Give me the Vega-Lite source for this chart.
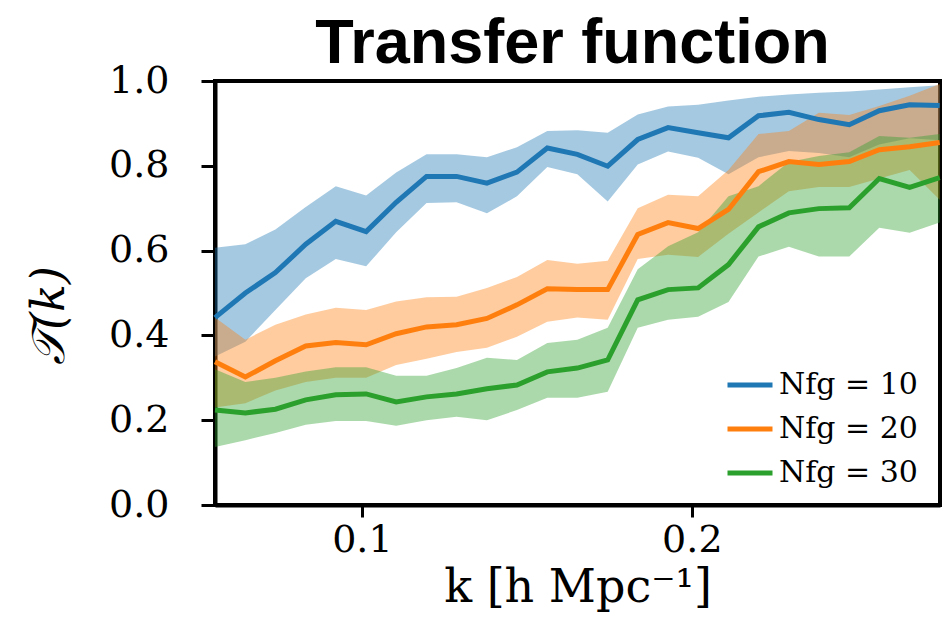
{
  "$schema": "https://vega.github.io/schema/vega-lite/v6.json",
  "width": 725,
  "height": 424,
  "autosize": {"type": "none"},
  "padding": {"left": 215, "top": 81, "right": 8, "bottom": 115},
  "background": "white",
  "title": {"text": "Transfer function", "font": "Liberation Sans", "fontSize": 63, "fontWeight": "bold", "color": "black", "anchor": "middle", "baseline": "bottom", "offset": 3, "frame": "group", "dx": -5, "dy": 80},
  "config": {
    "view": {"stroke": "black", "strokeWidth": 4},
    "axis": {"grid": false, "domainColor": "black", "domainWidth": 4, "tickColor": "black", "tickWidth": 3, "labelColor": "black", "titleColor": "black", "labelFont": "DejaVu Serif", "labelFontSize": 38, "titleFont": "DejaVu Serif", "titleFontWeight": "normal"}
  },
  "data": {"values": [
    {"k": 0.0555, "series": "10", "lo": 0.35, "mid": 0.442, "hi": 0.607},
    {"k": 0.0647, "series": "10", "lo": 0.385, "mid": 0.50, "hi": 0.615},
    {"k": 0.0738, "series": "10", "lo": 0.46, "mid": 0.548, "hi": 0.65},
    {"k": 0.0830, "series": "10", "lo": 0.535, "mid": 0.615, "hi": 0.703},
    {"k": 0.0921, "series": "10", "lo": 0.58, "mid": 0.669, "hi": 0.752},
    {"k": 0.1013, "series": "10", "lo": 0.563, "mid": 0.645, "hi": 0.73},
    {"k": 0.1104, "series": "10", "lo": 0.643, "mid": 0.714, "hi": 0.784},
    {"k": 0.1196, "series": "10", "lo": 0.712, "mid": 0.775, "hi": 0.827},
    {"k": 0.1287, "series": "10", "lo": 0.714, "mid": 0.775, "hi": 0.827},
    {"k": 0.1379, "series": "10", "lo": 0.688, "mid": 0.759, "hi": 0.82},
    {"k": 0.1470, "series": "10", "lo": 0.728, "mid": 0.785, "hi": 0.844},
    {"k": 0.1562, "series": "10", "lo": 0.797, "mid": 0.842, "hi": 0.882},
    {"k": 0.1653, "series": "10", "lo": 0.78, "mid": 0.827, "hi": 0.884},
    {"k": 0.1745, "series": "10", "lo": 0.716, "mid": 0.799, "hi": 0.878},
    {"k": 0.1836, "series": "10", "lo": 0.803, "mid": 0.862, "hi": 0.921},
    {"k": 0.1928, "series": "10", "lo": 0.834, "mid": 0.89, "hi": 0.94},
    {"k": 0.2019, "series": "10", "lo": 0.819, "mid": 0.878, "hi": 0.944},
    {"k": 0.2111, "series": "10", "lo": 0.78, "mid": 0.866, "hi": 0.954},
    {"k": 0.2202, "series": "10", "lo": 0.82, "mid": 0.918, "hi": 0.963},
    {"k": 0.2294, "series": "10", "lo": 0.835, "mid": 0.926, "hi": 0.968},
    {"k": 0.2385, "series": "10", "lo": 0.83, "mid": 0.909, "hi": 0.972},
    {"k": 0.2477, "series": "10", "lo": 0.82, "mid": 0.897, "hi": 0.975},
    {"k": 0.2568, "series": "10", "lo": 0.85, "mid": 0.93, "hi": 0.98},
    {"k": 0.2660, "series": "10", "lo": 0.865, "mid": 0.944, "hi": 0.985},
    {"k": 0.2751, "series": "10", "lo": 0.86, "mid": 0.942, "hi": 0.99},
    {"k": 0.0555, "series": "20", "lo": 0.23, "mid": 0.338, "hi": 0.442},
    {"k": 0.0647, "series": "20", "lo": 0.24, "mid": 0.302, "hi": 0.39},
    {"k": 0.0738, "series": "20", "lo": 0.27, "mid": 0.34, "hi": 0.425},
    {"k": 0.0830, "series": "20", "lo": 0.29, "mid": 0.375, "hi": 0.449},
    {"k": 0.0921, "series": "20", "lo": 0.30, "mid": 0.383, "hi": 0.465},
    {"k": 0.1013, "series": "20", "lo": 0.30, "mid": 0.378, "hi": 0.46},
    {"k": 0.1104, "series": "20", "lo": 0.33, "mid": 0.404, "hi": 0.48},
    {"k": 0.1196, "series": "20", "lo": 0.345, "mid": 0.42, "hi": 0.49},
    {"k": 0.1287, "series": "20", "lo": 0.361, "mid": 0.425, "hi": 0.491},
    {"k": 0.1379, "series": "20", "lo": 0.371, "mid": 0.44, "hi": 0.512},
    {"k": 0.1470, "series": "20", "lo": 0.397, "mid": 0.472, "hi": 0.538},
    {"k": 0.1562, "series": "20", "lo": 0.432, "mid": 0.51, "hi": 0.578},
    {"k": 0.1653, "series": "20", "lo": 0.442, "mid": 0.508, "hi": 0.569},
    {"k": 0.1745, "series": "20", "lo": 0.437, "mid": 0.508, "hi": 0.576},
    {"k": 0.1836, "series": "20", "lo": 0.58, "mid": 0.638, "hi": 0.70},
    {"k": 0.1928, "series": "20", "lo": 0.59, "mid": 0.666, "hi": 0.732},
    {"k": 0.2019, "series": "20", "lo": 0.585, "mid": 0.652, "hi": 0.728},
    {"k": 0.2111, "series": "20", "lo": 0.64, "mid": 0.697, "hi": 0.79},
    {"k": 0.2202, "series": "20", "lo": 0.69, "mid": 0.786, "hi": 0.875},
    {"k": 0.2294, "series": "20", "lo": 0.74, "mid": 0.81, "hi": 0.882},
    {"k": 0.2385, "series": "20", "lo": 0.75, "mid": 0.803, "hi": 0.925},
    {"k": 0.2477, "series": "20", "lo": 0.75, "mid": 0.81, "hi": 0.92},
    {"k": 0.2568, "series": "20", "lo": 0.77, "mid": 0.838, "hi": 0.941},
    {"k": 0.2660, "series": "20", "lo": 0.79, "mid": 0.845, "hi": 0.965},
    {"k": 0.2751, "series": "20", "lo": 0.72, "mid": 0.855, "hi": 0.993},
    {"k": 0.0555, "series": "30", "lo": 0.137, "mid": 0.224, "hi": 0.32},
    {"k": 0.0647, "series": "30", "lo": 0.153, "mid": 0.217, "hi": 0.29},
    {"k": 0.0738, "series": "30", "lo": 0.17, "mid": 0.226, "hi": 0.30},
    {"k": 0.0830, "series": "30", "lo": 0.189, "mid": 0.248, "hi": 0.315},
    {"k": 0.0921, "series": "30", "lo": 0.198, "mid": 0.26, "hi": 0.325},
    {"k": 0.1013, "series": "30", "lo": 0.198, "mid": 0.262, "hi": 0.325},
    {"k": 0.1104, "series": "30", "lo": 0.187, "mid": 0.243, "hi": 0.305},
    {"k": 0.1196, "series": "30", "lo": 0.2, "mid": 0.255, "hi": 0.305},
    {"k": 0.1287, "series": "30", "lo": 0.208, "mid": 0.262, "hi": 0.323},
    {"k": 0.1379, "series": "30", "lo": 0.2, "mid": 0.274, "hi": 0.347},
    {"k": 0.1470, "series": "30", "lo": 0.224, "mid": 0.283, "hi": 0.342},
    {"k": 0.1562, "series": "30", "lo": 0.253, "mid": 0.314, "hi": 0.382},
    {"k": 0.1653, "series": "30", "lo": 0.253, "mid": 0.323, "hi": 0.39},
    {"k": 0.1745, "series": "30", "lo": 0.267, "mid": 0.342, "hi": 0.418},
    {"k": 0.1836, "series": "30", "lo": 0.418, "mid": 0.484, "hi": 0.556},
    {"k": 0.1928, "series": "30", "lo": 0.437, "mid": 0.508, "hi": 0.61},
    {"k": 0.2019, "series": "30", "lo": 0.444, "mid": 0.512, "hi": 0.643},
    {"k": 0.2111, "series": "30", "lo": 0.479, "mid": 0.567, "hi": 0.728},
    {"k": 0.2202, "series": "30", "lo": 0.586, "mid": 0.656, "hi": 0.752},
    {"k": 0.2294, "series": "30", "lo": 0.609, "mid": 0.689, "hi": 0.809},
    {"k": 0.2385, "series": "30", "lo": 0.586, "mid": 0.699, "hi": 0.823},
    {"k": 0.2477, "series": "30", "lo": 0.586, "mid": 0.701, "hi": 0.832},
    {"k": 0.2568, "series": "30", "lo": 0.654, "mid": 0.77, "hi": 0.87},
    {"k": 0.2660, "series": "30", "lo": 0.642, "mid": 0.749, "hi": 0.866},
    {"k": 0.2751, "series": "30", "lo": 0.666, "mid": 0.772, "hi": 0.875}
  ]},
  "encoding": {
    "x": {"field": "k", "type": "quantitative", "scale": {"domain": [0.0555, 0.2752], "nice": false, "zero": false},
      "axis": {"values": [0.1, 0.2], "format": ".1f", "tickSize": 12, "labelPadding": 4, "title": "k [h Mpc⁻¹]", "titleFontSize": 46, "titlePadding": 6}},
    "color": {"field": "series", "type": "nominal", "scale": {"domain": ["10", "20", "30"], "range": ["#1f77b4", "#ff7f0e", "#2ca02c"]},
      "legend": {"orient": "none", "legendX": 510, "legendY": 279, "title": null, "symbolType": "stroke", "symbolSize": 2025, "symbolStrokeWidth": 5, "symbolOpacity": 1, "labelFont": "DejaVu Serif", "labelFontSize": 30, "labelColor": "black", "labelOffset": 4, "rowPadding": 4, "padding": 0, "labelExpr": "'Nfg = ' + datum.label"}}
  },
  "layer": [
    {
      "mark": {"type": "area", "opacity": 0.4},
      "encoding": {
        "y": {"field": "lo", "type": "quantitative", "scale": {"domain": [0, 1], "nice": false},
          "axis": {"values": [0, 0.2, 0.4, 0.6, 0.8, 1.0], "format": ".1f", "tickSize": 14, "labelPadding": 32, "title": "𝒯(k)", "titleFontSize": 46, "titleFontStyle": "italic", "titleX": -166, "titleY": 234, "titleAngle": -90, "titleAlign": "center", "titleBaseline": "middle"}},
        "y2": {"field": "hi"}
      }
    },
    {
      "mark": {"type": "line", "strokeWidth": 5},
      "encoding": {
        "y": {"field": "mid", "type": "quantitative"}
      }
    }
  ]
}
